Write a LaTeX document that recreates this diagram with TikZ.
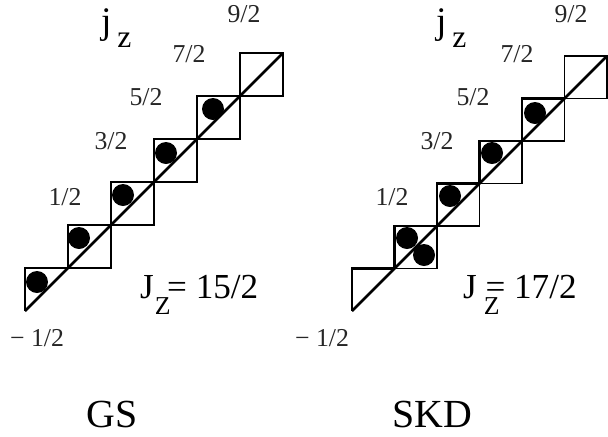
\documentclass[tikz,border=0pt]{standalone}
\usepackage{fontspec}
\setmainfont{Liberation Serif}
\usetikzlibrary{positioning}

\begin{document}
\begin{tikzpicture}[x=0.03cm, y=-0.03cm,
  box/.style={line width=1.1pt},
  occ/.style={line width=2.2pt},
  diag/.style={line width=2.4pt},
  elec/.style={circle, fill=black, inner sep=0pt, minimum size=0.66cm},
  lvl/.style={font=\fontsize{22}{24}\selectfont, text=black!85},
  jzl/.style={font=\fontsize{30}{32}\selectfont, anchor=base west},
  ttl/.style={font=\fontsize{34}{36}\selectfont, anchor=base}
]
\useasboundingbox (0,0) rectangle (608,436);

%% ── Level boxes, bottom half-box and diagonal
\foreach \d/\ox/\s in {GS/25/43, SKD/352/42.5}{
  \foreach \i in {1,...,5}
    \draw[box] (\ox+\s*\i, 311-\s*\i) rectangle ++(\s,-\s);
  \foreach \i in {0,...,4}
    \draw[occ] (\ox+\s*\i, 311-\s*\i) |- ++(\s,-\s);
  \coordinate (\d-lo) at (\ox, 311);
  \coordinate (\d-hi) at (\ox+6*\s, 311-6*\s);
  \draw[diag] (\d-lo) -- (\d-hi);
}

%% ── Occupied levels
\foreach \n/\x/\y in {GS-e0/37/282, GS-e1/79/238, GS-e2/123/195,
                      GS-e3/166/153, GS-e4/213/109,
                      SKD-e1a/407/238, SKD-e1b/424/255, SKD-e2/450/196,
                      SKD-e3/492/153, SKD-e4/535/113}
  \node[elec] (\n) at (\x,\y) {};

%% ── j_z labels along the ladders
\foreach \n/\t/\x/\y in {GS-m1/{− 1/2}/37/338, GS-p1/{1/2}/65/197,
                         GS-p3/{3/2}/111/141, GS-p5/{5/2}/146/97,
                         GS-p7/{7/2}/189/54, GS-p9/{9/2}/244/14,
                         SKD-m1/{− 1/2}/322/338, SKD-p1/{1/2}/392/197,
                         SKD-p3/{3/2}/437/141, SKD-p5/{5/2}/473/97,
                         SKD-p7/{7/2}/517/54, SKD-p9/{9/2}/571/14}
  \node[lvl] (\n) at (\x,\y) {\t};

%% ── Axis names
\node[jzl, font=\fontsize{32}{32}\selectfont] (GS-jz) at (97,33)
  {j\hspace{5pt}\raisebox{-12pt}{\fontsize{27}{27}\selectfont z}};
\node[jzl, font=\fontsize{32}{32}\selectfont] (SKD-jz) at (432,33)
  {j\hspace{5pt}\raisebox{-12pt}{\fontsize{27}{27}\selectfont z}};

%% ── Total projections
\node[jzl] (GS-Jz) at (136,298)
  {J\hspace{1pt}\raisebox{-14pt}{\fontsize{22}{22}\selectfont Z}\hspace{-3pt}= 15/2};
\node[jzl] (SKD-Jz) at (459,298)
  {J\hspace{6pt}\raisebox{-14pt}{\fontsize{22}{22}\selectfont Z}\hspace{-12pt}= 17/2};

%% ── Titles
\node[ttl] (GS-t) at (112,427) {GS};
\node[ttl] (SKD-t) at (432,427) {SKD};

\end{tikzpicture}
\end{document}
